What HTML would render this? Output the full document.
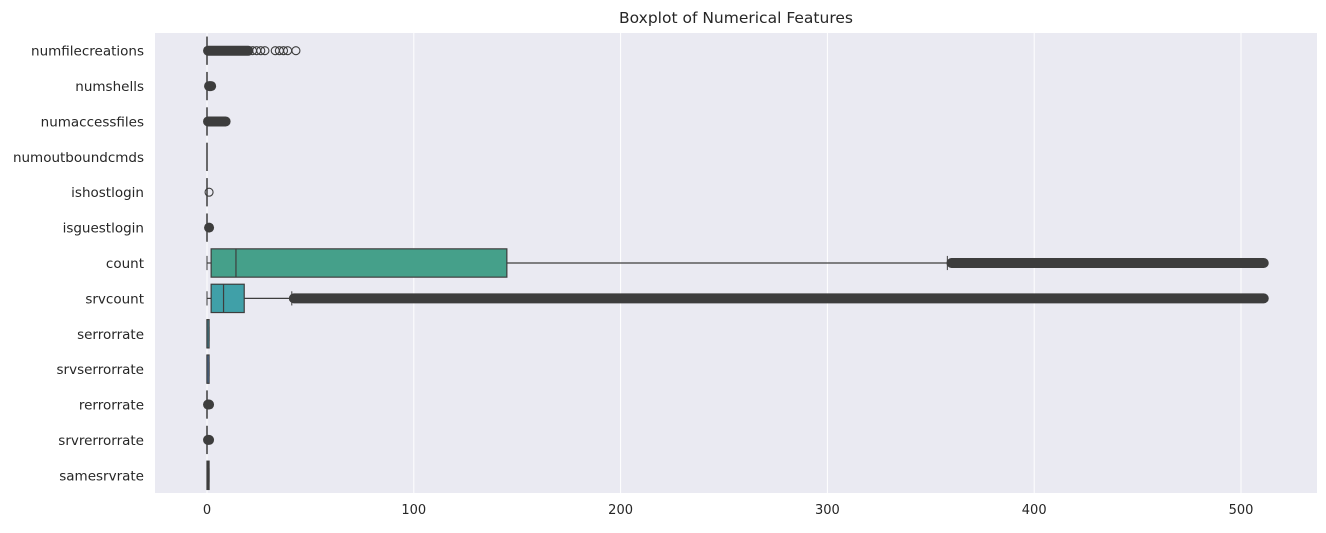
<!DOCTYPE html>
<html><head><meta charset="utf-8"><style>
body{margin:0;background:#fff;font-family:"Liberation Sans","DejaVu Sans",sans-serif;}
svg text{font-family:"DejaVu Sans","Liberation Sans",sans-serif;fill:#262626;}
</style></head><body>
<svg id="chart" width="1326" height="528"></svg>
<script>
const categories=["numfilecreations","numshells","numaccessfiles","numoutboundcmds","ishostlogin","isguestlogin","count","srvcount","serrorrate","srvserrorrate","rerrorrate","srvrerrorrate","samesrvrate"];
const q1=[0,0,0,0,0,0,2,2,0,0,0,0,0];
const med=[0,0,0,0,0,0,14,8,0,0,0,0,0.5];
const q3=[0,0,0,0,0,0,145,18,1,1,0,0,1];
const whiskLo=[0,0,0,0,0,0,0,0,0,0,0,0,0];
const whiskHi=[0,0,0,0,0,0,358,41,1,1,0,0,1];
const denseMin=[0.5,1,0.5,null,null,1,360,42,null,null,0.5,0.5,null];
const denseMax=[20,2,9,null,null,1,511,511,null,null,1,1,null];
const sparse=[[22,24,26,28,33,35,37,39,43],[],[],[],[1],[],[],[],[],[],[],[],[]];
const colors=["#2a7a80","#2f8a8a","#33938a","#36998a","#3a9e8a","#40a08a","#45a08a","#40a0a8","#3a8ea0","#4a78b0","#6a5aa8","#8a4e9a","#b04a7a"];
const xticks=[0,100,200,300,400,500];

const NS="http://www.w3.org/2000/svg";
const svg=document.getElementById('chart');
const L=155,R=1317,T=33,B=493;
const x0=207,pxu=(1241-207)/500;
const X=v=>x0+v*pxu;
const band=(B-T)/categories.length;
const Y=i=>T+(i+0.5)*band;
function el(t,a,p){const e=document.createElementNS(NS,t);for(const k in a)e.setAttribute(k,a[k]);(p||svg).appendChild(e);return e;}

const bg=el('rect',{x:L,y:T,width:R-L,height:B-T,fill:'#eaeaf2'});


xticks.forEach(t=>{
  const g=el('line',{x1:X(t),x2:X(t),y1:T,y2:B,stroke:'#fff','stroke-width':1});
  
  
  const tx=el('text',{x:X(t),y:514,'text-anchor':'middle','font-size':13});
  tx.textContent=t;
  
  
});
const title=el('text',{x:(L+R)/2,y:23,'text-anchor':'middle','font-size':15.5});
title.textContent="Boxplot of Numerical Features";



const dark='#3d3d3d';
categories.forEach((c,i)=>{
  const y=Y(i),h=band*0.8;
  const lab=el('text',{x:144,y:y+5,'text-anchor':'end','font-size':13.5});
  lab.textContent=c;
  
  
  const g=el('g',{});
  
  
  el('line',{x1:X(whiskLo[i]),x2:X(q1[i]),y1:y,y2:y,stroke:dark,'stroke-width':1.2},g);
  el('line',{x1:X(q3[i]),x2:X(whiskHi[i]),y1:y,y2:y,stroke:dark,'stroke-width':1.2},g);
  el('line',{x1:X(whiskLo[i]),x2:X(whiskLo[i]),y1:y-h/4,y2:y+h/4,stroke:dark,'stroke-width':1},g);
  el('line',{x1:X(whiskHi[i]),x2:X(whiskHi[i]),y1:y-h/4,y2:y+h/4,stroke:dark,'stroke-width':1},g);
  if(q3[i]>q1[i]){
    el('rect',{x:X(q1[i]),y:y-h/2,width:X(q3[i])-X(q1[i]),height:h,fill:colors[i],stroke:dark,'stroke-width':1.2},g);
    el('line',{x1:X(med[i]),x2:X(med[i]),y1:y-h/2,y2:y+h/2,stroke:dark,'stroke-width':1.2},g);
  } else {
    el('line',{x1:X(q1[i]),x2:X(q1[i]),y1:y-h/2,y2:y+h/2,stroke:dark,'stroke-width':1.5},g);
  }
  if(denseMin[i]!==null){
    const o=el('line',{x1:X(denseMin[i]),x2:X(denseMax[i]),y1:y,y2:y,stroke:dark,'stroke-width':10,'stroke-linecap':'round'});
    
    
  }
  sparse[i].forEach(v=>{
    const p=el('circle',{cx:X(v),cy:y,r:4,fill:'none',stroke:dark,'stroke-width':1.1});
    
    
  });
});
</script>
</body></html>
